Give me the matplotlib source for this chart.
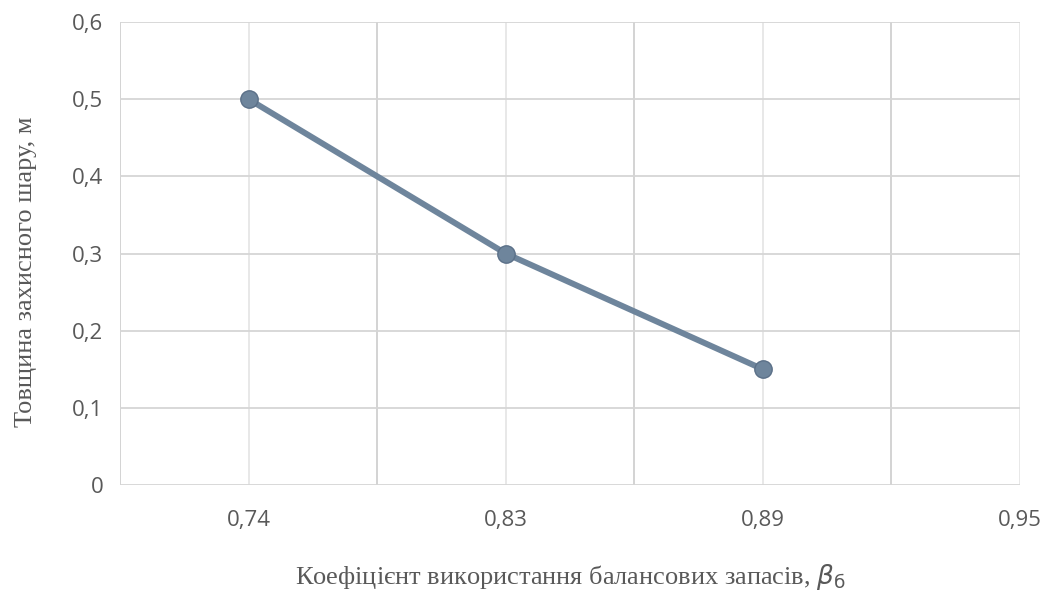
import matplotlib.pyplot as plt

# data
categories = ['0,74', '0,83', '0,89', '0,95']
thickness = [0.5, 0.3, 0.15]
y_ticks = [0, 0.1, 0.2, 0.3, 0.4, 0.5, 0.6]
y_labels = ['0', '0,1', '0,2', '0,3', '0,4', '0,5', '0,6']

fig = plt.figure(figsize=(10.51, 5.93), dpi=100)
ax = fig.add_axes([0.1142, 0.1821, 0.8563, 0.7808])

x = list(range(len(thickness)))
ax.plot(x, thickness, color='#6e859c', lw=4.3, marker='o', ms=12.5,
        mfc='#6e859c', mec='#5b7088', mew=1, zorder=3, solid_capstyle='round')

ax.set_xlim(-0.5, 3.0)
ax.set_ylim(0, 0.6)
ax.set_xticks(range(len(categories)))
ax.set_xticklabels(categories)
ax.set_yticks(y_ticks)
ax.set_yticklabels(y_labels)

# gridlines every half category (darker between categories)
for v in [-0.5, 0.5, 1.5, 2.5]:
    ax.axvline(v, color='#d0d0d0', lw=1.3, zorder=1)
for v in [0, 1, 2, 3]:
    ax.axvline(v, color='#e6e6e6', lw=1.3, zorder=1)
for v in y_ticks:
    ax.axhline(v, color='#d6d6d6', lw=1.3, zorder=1)

for s in ax.spines.values():
    s.set_visible(False)
ax.tick_params(length=0, labelsize=16, labelcolor='#595959', pad=18)
ax.tick_params(axis='y', pad=12)
for lab in ax.get_xticklabels() + ax.get_yticklabels():
    lab.set_fontfamily('Open Sans')
    lab.set_fontweight('medium')

ax.set_ylabel('Товщина захисного шару, м', fontsize=19, color='#595959',
              fontfamily='Liberation Serif', labelpad=12)
ax.yaxis.set_label_coords(-0.092, 0.46)
ax.set_xlabel(r'Коефіцієнт використання балансових запасів, $\beta_\mathrm{б}$', fontsize=19,
              color='#595959', fontfamily='Liberation Serif', labelpad=22)

plt.savefig('out.png', dpi=100)
